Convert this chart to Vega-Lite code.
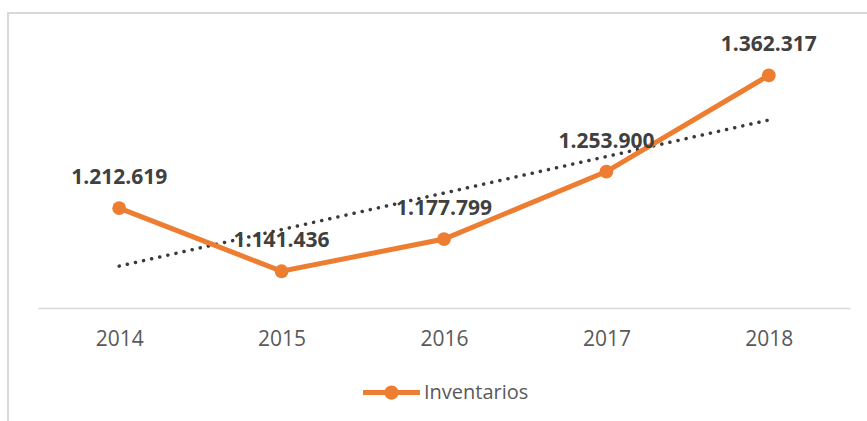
{
  "$schema": "https://vega.github.io/schema/vega-lite/v6.json",
  "width": 860,
  "height": 409,
  "autosize": {"type": "none"},
  "padding": {"left": 8, "top": 13, "right": -1, "bottom": -1},
  "background": "white",
  "config": {
    "view": {"stroke": "#D9D9D9", "strokeWidth": 2},
    "font": "Open Sans",
    "locale": {"number": {"decimal": ",", "thousands": ".", "grouping": [3], "currency": ["", ""]}}
  },
  "data": {
    "values": [
      {"year": 2014, "value": 1212619, "serie": "Inventarios"},
      {"year": 2015, "value": 1141436, "serie": "Inventarios"},
      {"year": 2016, "value": 1177799, "serie": "Inventarios"},
      {"year": 2017, "value": 1253900, "serie": "Inventarios"},
      {"year": 2018, "value": 1362317, "serie": "Inventarios"}
    ]
  },
  "encoding": {
    "x": {
      "field": "year",
      "type": "ordinal",
      "scale": {"type": "point", "padding": 0.5, "range": [30, 842]},
      "axis": {
        "title": null,
        "domainColor": "#D9D9D9",
        "domainWidth": 1.5,
        "ticks": false,
        "tickSize": 0,
        "labelFontSize": 21,
        "labelColor": "#595959",
        "labelPadding": 20,
        "labelAngle": 0,
        "offset": -114,
        "grid": false
      }
    },
    "y": {
      "field": "value",
      "type": "quantitative",
      "scale": {"domain": [1100000, 1400000], "range": [295, 29], "nice": false, "zero": false},
      "axis": null
    }
  },
  "layer": [
    {
      "transform": [{"regression": "value", "on": "year", "method": "linear"}],
      "mark": {"type": "line", "color": "#3A3A3A", "strokeWidth": 3.5, "strokeCap": "round", "strokeDash": [0.1, 8.2]}
    },
    {
      "mark": {"type": "line", "color": "#ED7D31", "strokeWidth": 5}
    },
    {
      "mark": {"type": "point", "filled": true, "size": 190, "opacity": 1, "shape": "circle"},
      "encoding": {
        "color": {
          "field": "serie",
          "type": "nominal",
          "scale": {"range": ["#ED7D31"]},
          "legend": {
            "title": null,
            "orient": "none",
            "legendX": 355,
            "legendY": 351,
            "padding": 0,
            "symbolType": "M-1,-0.09L1,-0.09L1,0.09L-1,0.09Z M-0.25,0A0.25,0.25 0 1,1 0.25,0A0.25,0.25 0 1,1 -0.25,0Z",
            "symbolSize": 3249,
            "symbolStrokeWidth": 0,
            "labelFontSize": 20,
            "labelColor": "#595959",
            "labelOffset": 4
          }
        }
      }
    },
    {
      "mark": {"type": "text", "dy": -24, "baseline": "alphabetic", "fontWeight": "bold", "fontSize": 21, "color": "#404040"},
      "encoding": {
        "text": {"field": "value", "type": "quantitative", "format": ","}
      }
    }
  ]
}
